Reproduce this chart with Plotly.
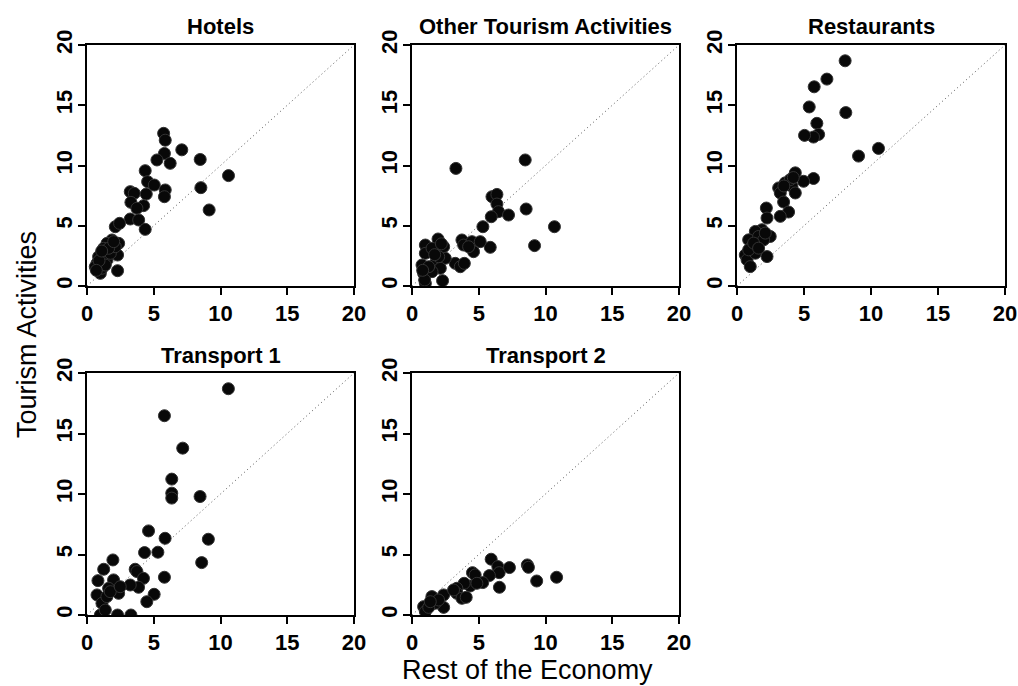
import plotly.graph_objects as go

# Growth comparison: tourism sub-sectors vs. rest of the economy
hotels_x = [5.74, 5.86, 7.1, 8.48, 10.6, 5.8, 5.24, 6.23, 4.36, 4.54, 5.04, 8.53, 5.86, 5.8, 4.44,
            3.24, 3.54, 3.29, 4.24, 3.74, 9.15, 3.24, 3.87, 4.36, 2.12, 2.44, 2.29,
            1.87, 2.37, 1.5, 1.25, 2.29, 0.87, 0.75, 0.62, 1.0, 1.5, 1.75, 2.12, 1.12, 1.37, 1.62, 2.0,
            0.9, 1.1, 0.7]
hotels_y = [12.67, 12.1, 11.3, 10.5, 9.16, 11.0, 10.46, 10.18, 9.57, 8.66, 8.38, 8.16, 7.97, 7.41, 7.63,
            7.83, 7.69, 6.94, 6.67, 6.45, 6.31, 5.56, 5.48, 4.7, 4.92, 5.2, 1.27,
            3.82, 3.54, 3.54, 3.13, 2.57, 2.43, 1.88, 1.6, 1.05, 2.16, 2.71, 3.26, 1.47, 1.74, 3.13, 3.68,
            2.1, 2.9, 1.3]

other_x = [8.48, 3.29, 5.99, 6.36, 6.36, 6.48, 5.94, 7.23, 8.55, 5.31, 10.67, 9.18, 5.86,
           3.74, 3.87, 4.49, 5.11, 4.61, 4.24, 3.24, 3.62, 3.92, 2.29,
           1.0, 1.95, 2.37, 1.0, 1.5, 2.49, 0.75, 0.87, 1.0, 1.75, 2.12, 1.5, 2.0, 1.25, 0.95,
           1.7, 2.2, 0.8]
other_y = [10.46, 9.76, 7.41, 7.6, 6.8, 6.17, 5.75, 5.89, 6.39, 4.92, 4.92, 3.35, 3.21,
           3.82, 3.4, 3.68, 3.68, 2.85, 3.26, 1.88, 1.6, 1.88, 0.44,
           3.4, 3.9, 3.26, 2.71, 3.13, 2.3, 1.74, 1.05, 0.22, 1.88, 1.47, 1.19, 2.43, 1.6, 0.5,
           2.6, 3.5, 1.3]

rest_x = [8.07, 6.71, 5.76, 5.39, 8.12, 5.96, 6.09, 5.71, 5.04, 9.07, 10.56, 5.71, 4.35, 4.97,
          3.6, 3.11, 3.23, 4.1, 4.35, 3.48, 3.85, 3.23, 2.19, 2.24, 3.98, 2.24,
          1.86, 1.37, 2.48, 0.87, 1.61, 1.12, 0.62, 0.75, 0.99, 1.37, 1.99, 0.87, 1.24, 2.11, 1.61,
          3.5, 4.2]
rest_y = [18.69, 17.17, 16.53, 14.86, 14.39, 13.5, 12.58, 12.36, 12.5, 10.78, 11.42, 8.92, 9.39, 8.69,
          8.56, 8.14, 7.72, 8.28, 7.72, 6.97, 6.14, 5.78, 6.47, 5.64, 8.83, 2.44,
          4.67, 4.53, 4.11, 3.83, 4.11, 3.28, 2.58, 2.17, 1.61, 2.72, 3.83, 3.0, 3.56, 4.39, 3.14,
          8.3, 9.0]

tr1_x = [10.59, 5.8, 7.17, 6.35, 6.35, 6.35, 8.47, 4.61, 5.85, 9.09, 4.31, 5.31, 8.59, 5.8,
         3.61, 3.74, 4.23, 3.86, 3.24, 5.03, 4.48,
         1.94, 1.25, 0.82, 1.99, 2.37, 0.75, 1.62, 1.12, 1.0, 2.29, 3.29, 1.49, 1.37, 1.74, 2.49]
tr1_y = [18.7, 16.47, 13.79, 11.23, 10.07, 9.66, 9.79, 6.95, 6.34, 6.26, 5.16, 5.19, 4.33, 3.12,
         3.78, 3.59, 3.03, 2.29, 2.48, 1.71, 1.1,
         4.55, 3.78, 2.84, 2.9, 1.79, 1.66, 2.21, 0.97, 0.0, 0.0, 0.0, 1.52, 0.41, 1.93, 2.34]

tr2_x = [5.93, 6.43, 6.53, 7.3, 8.64, 8.72, 9.34, 10.83, 4.53, 4.73, 5.8, 5.3, 6.55, 4.36,
         3.91, 3.36, 3.36, 3.74, 4.06, 4.86, 2.37, 1.49, 2.37, 0.87, 1.0, 1.74, 1.25, 1.99, 1.37, 3.11]
tr2_y = [4.61, 4.0, 3.5, 3.92, 4.14, 3.94, 2.81, 3.12, 3.5, 3.31, 3.26, 2.68, 2.29, 2.4,
         2.62, 2.21, 1.79, 1.38, 1.46, 2.62, 1.66, 1.52, 0.63, 0.69, 0.28, 0.97, 0.63, 1.24, 1.1, 2.07]

panel_titles = ["Hotels", "Other Tourism Activities", "Restaurants", "Transport 1", "Transport 2"]
panel_x = [hotels_x, other_x, rest_x, tr1_x, tr2_x]
panel_y = [hotels_y, other_y, rest_y, tr1_y, tr2_y]
tick_vals = [0, 5, 10, 15, 20]
tick_text = ["0", "5", "10", "15", "20"]

W, H = 1018, 686
col_px = [(87, 354), (412, 679), (737, 1005)]
row_px = [(45, 286), (373, 615)]

TICK_FONT = dict(family="Liberation Sans, Arial", size=22, color="black", weight="bold")
TITLE_FONT = dict(family="Liberation Sans, Arial", size=22, color="black")
AXIS_TITLE_FONT = dict(family="Liberation Sans, Arial", size=27, color="black")

fig = go.Figure()
annotations = []

for i, (title, xs, ys) in enumerate(zip(panel_titles, panel_x, panel_y)):
    r, c = divmod(i, 3)
    x0, x1 = col_px[c]
    top, bot = row_px[r]
    xd = [x0 / W, x1 / W]
    yd = [1 - bot / H, 1 - top / H]
    n = i + 1
    xa = "x" if n == 1 else f"x{n}"
    ya = "y" if n == 1 else f"y{n}"

    # reference diagonal y = x
    fig.add_trace(go.Scatter(x=[0, 20], y=[0, 20], mode="lines", xaxis=xa, yaxis=ya,
                             line=dict(color="#555555", width=1, dash="1px,3px"),
                             hoverinfo="skip", showlegend=False))
    fig.add_trace(go.Scatter(x=xs, y=ys, mode="markers", xaxis=xa, yaxis=ya,
                             marker=dict(size=12, color="#080808",
                                         line=dict(color="#333333", width=1)),
                             showlegend=False))

    common = dict(range=[0, 20], tickvals=tick_vals, ticktext=tick_text,
                  showgrid=False, zeroline=False, showline=True, mirror=True,
                  linecolor="black", linewidth=1.5, ticks="outside", ticklen=7,
                  tickwidth=1.5, tickcolor="black", tickfont=TICK_FONT, fixedrange=True,
                  automargin=False)
    fig.layout[("xaxis" if n == 1 else f"xaxis{n}")] = dict(
        domain=xd, anchor=ya, **common)
    fig.layout[("yaxis" if n == 1 else f"yaxis{n}")] = dict(
        domain=yd, anchor=xa, tickangle=-90, ticklabelstandoff=-3, **common)

    annotations.append(dict(text=f"<b>{title}</b>", x=(xd[0] + xd[1]) / 2,
                            y=1 - (top - 18) / H, xref="paper", yref="paper",
                            xanchor="center", yanchor="middle", showarrow=False,
                            font=TITLE_FONT))

annotations.append(dict(text="Tourism Activities", x=27 / W, y=1 - 335 / H,
                        xref="paper", yref="paper", textangle=-90,
                        xanchor="center", yanchor="middle", showarrow=False,
                        font=AXIS_TITLE_FONT))
annotations.append(dict(text="Rest of the Economy", x=527 / W, y=1 - 670 / H,
                        xref="paper", yref="paper",
                        xanchor="center", yanchor="middle", showarrow=False,
                        font=AXIS_TITLE_FONT))

fig.update_layout(width=W, height=H,
                  margin=dict(l=0, r=0, t=0, b=0, autoexpand=False),
                  paper_bgcolor="white", plot_bgcolor="white",
                  annotations=annotations, showlegend=False)

fig.write_html("out.html")
